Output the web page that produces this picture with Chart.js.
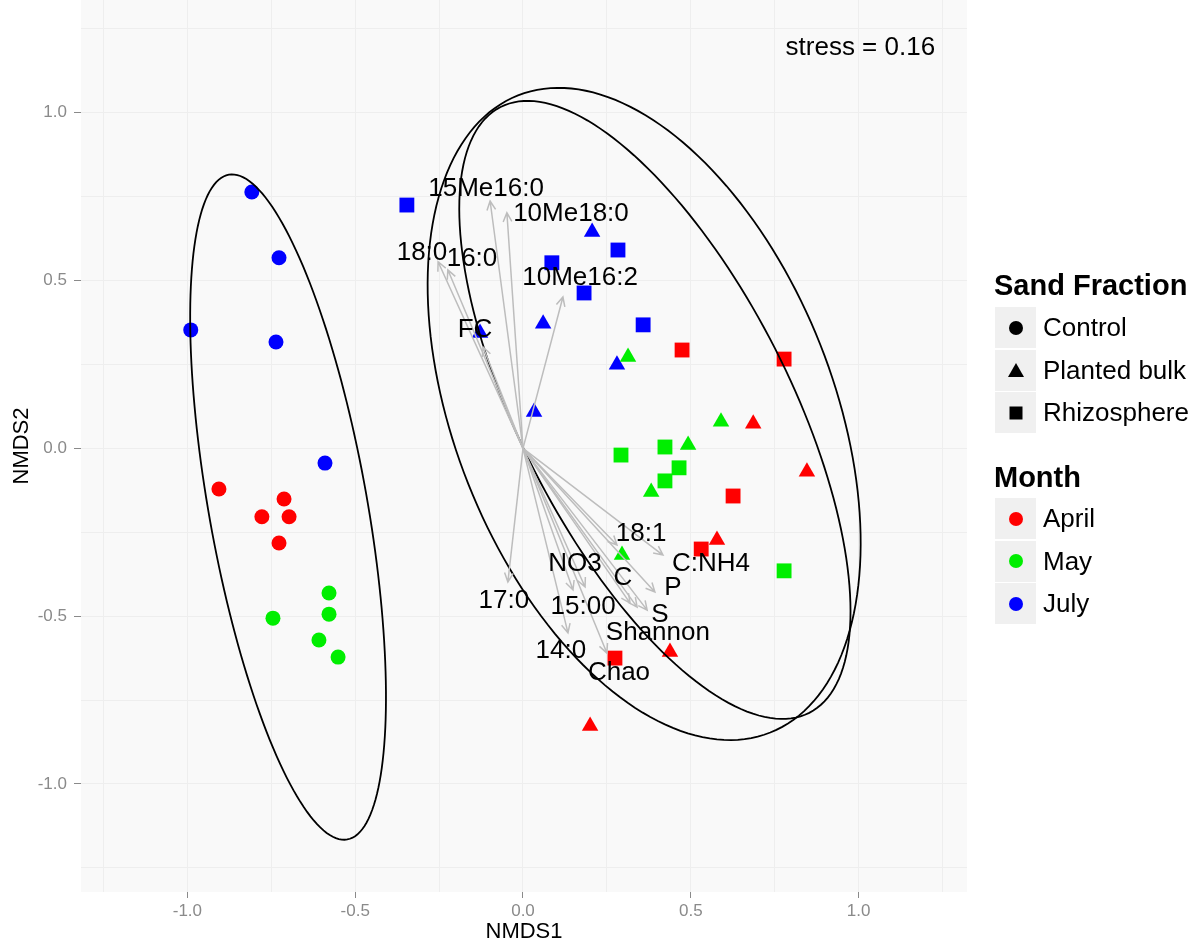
<!DOCTYPE html>
<html>
<head>
<meta charset="utf-8">
<title>NMDS</title>
<script src="https://cdn.jsdelivr.net/npm/chart.js@4.4.0/dist/chart.umd.min.js"></script>
<style>
  html, body { margin: 0; padding: 0; background: #fff; }
  #wrap { position: relative; width: 1203px; height: 945px; font-family: "Liberation Sans", Arial, sans-serif; }
  #plot { position: absolute; left: 0; top: 0; }
  .lg-title { position: absolute; left: 994px; font-weight: bold; font-size: 29px; line-height: 32px; color: #000; }
  .lg-row { position: absolute; left: 995px; height: 41px; }
  .lg-key { position: absolute; left: 0; top: 0; width: 41px; height: 41px; background: #f0f0f0; }
  .lg-key span { position: absolute; left: 50%; top: 50%; transform: translate(-50%, -50%); }
  .lg-label { position: absolute; left: 48px; top: 0; font-size: 26px; line-height: 41px; color: #000; white-space: nowrap; }
  .sym-circle { width: 14px; height: 14px; border-radius: 50%; }
  .sym-square { width: 13px; height: 13px; background: #000; }
  .sym-triangle { width: 0; height: 0; border-left: 8px solid transparent; border-right: 8px solid transparent; border-bottom: 14px solid #000; }
</style>
</head>
<body>
<div id="wrap">
  <canvas id="plot" width="1203" height="945"></canvas>
  <div id="legend"></div>
</div>
<script>
// site scores [NMDS1, NMDS2]
const sandFractions = ['Control', 'Planted bulk', 'Rhizosphere'];
const months = ['April', 'May', 'July'];

const controlApril = [[-0.906, -0.121], [-0.712, -0.151], [-0.778, -0.204], [-0.697, -0.204], [-0.727, -0.282]];
const controlMay = [[-0.578, -0.431], [-0.578, -0.494], [-0.745, -0.506], [-0.608, -0.571], [-0.551, -0.622]];
const controlJuly = [[-0.808, 0.764], [-0.727, 0.568], [-0.990, 0.353], [-0.736, 0.317], [-0.590, -0.044]];

const plantedApril = [[0.686, 0.073], [0.846, -0.070], [0.578, -0.273], [0.438, -0.607], [0.200, -0.827]];
const plantedMay = [[0.313, 0.272], [0.590, 0.079], [0.492, 0.010], [0.382, -0.130], [0.295, -0.318]];
const plantedJuly = [[0.206, 0.645], [0.060, 0.371], [-0.128, 0.344], [0.033, 0.108], [0.280, 0.249]];

const rhizoApril = [[0.474, 0.293], [0.778, 0.266], [0.626, -0.142], [0.531, -0.300], [0.274, -0.625]];
const rhizoMay = [[0.292, -0.020], [0.423, 0.004], [0.465, -0.058], [0.423, -0.097], [0.778, -0.365]];
const rhizoJuly = [[-0.346, 0.725], [0.086, 0.553], [0.283, 0.591], [0.182, 0.463], [0.358, 0.368]];

const sites = [
  [controlApril, controlMay, controlJuly],
  [plantedApril, plantedMay, plantedJuly],
  [rhizoApril, rhizoMay, rhizoJuly]
];

// fitted vectors
const vectorNames = ['15Me16:0', '10Me18:0', '18:0', '16:0', 'FC', '10Me16:2', '17:0', '14:0', 'Chao', '15:00', 'NO3', 'C', 'Shannon', 'S', 'P', '18:1', 'C:NH4'];
const vectorNMDS1 = [-0.098, -0.048, -0.253, -0.224, -0.119, 0.119, -0.045, 0.134, 0.250, 0.149, 0.185, 0.319, 0.340, 0.370, 0.393, 0.280, 0.417];
const vectorNMDS2 = [0.737, 0.702, 0.556, 0.532, 0.302, 0.451, -0.398, -0.550, -0.610, -0.422, -0.413, -0.461, -0.473, -0.482, -0.428, -0.288, -0.318];
const labelNMDS1 = [-0.110, 0.143, -0.301, -0.152, -0.143, 0.170, -0.057, 0.113, 0.286, 0.179, 0.155, 0.298, 0.402, 0.408, 0.447, 0.352, 0.560];
const labelNMDS2 = [0.776, 0.702, 0.585, 0.568, 0.356, 0.511, -0.452, -0.601, -0.666, -0.470, -0.342, -0.383, -0.547, -0.494, -0.413, -0.252, -0.342];

// group ellipses: centre, semi-axes, lean of the major axis from vertical (deg)
const ellipseCentre = [[-0.700, -0.175], [0.361, 0.1025], [0.393, 0.1145]];
const ellipseAxes = [[1.006, 0.236], [1.021, 0.564], [1.013, 0.402]];
const ellipseLean = [10.1, 21.6, 27];

const stressText = 'stress = 0.16';

const monthColors = ['#ff0000', '#00ee00', '#0000ff'];
const shapeStyle = [
  { pointStyle: 'circle', radius: 7.5, css: 'sym-circle' },
  { pointStyle: 'triangle', radius: 9.5, css: 'sym-triangle' },
  { pointStyle: 'rect', radius: 10.5, css: 'sym-square' }
];

const FONT = '"Liberation Sans", Arial, sans-serif';

const datasets = [];
sites.forEach((byMonth, f) => {
  byMonth.forEach((pts, m) => {
    datasets.push({
      label: sandFractions[f] + ' / ' + months[m],
      data: pts.map(p => ({ x: p[0], y: p[1] })),
      pointStyle: shapeStyle[f].pointStyle,
      pointRadius: shapeStyle[f].radius,
      pointBackgroundColor: monthColors[m],
      pointBorderColor: monthColors[m],
      pointBorderWidth: 0,
      showLine: false
    });
  });
});

const isMajor = v => Math.abs(v * 2 - Math.round(v * 2)) < 1e-6;

const overlay = {
  id: 'overlay',
  beforeDraw(chart) {
    const { ctx, chartArea: a } = chart;
    ctx.save();
    ctx.fillStyle = '#f9f9f9';
    ctx.fillRect(a.left, a.top, a.right - a.left, a.bottom - a.top);
    ctx.restore();
  },
  afterDatasetsDraw(chart) {
    const { ctx } = chart;
    const xs = chart.scales.x, ys = chart.scales.y;
    const px = v => xs.getPixelForValue(v);
    const py = v => ys.getPixelForValue(v);
    ctx.save();

    // ellipses
    ctx.strokeStyle = '#000';
    ctx.lineWidth = 1.8;
    ellipseCentre.forEach((c, i) => {
      const [A, B] = ellipseAxes[i];
      const th = ellipseLean[i] * Math.PI / 180;
      const ux = -Math.sin(th), uy = Math.cos(th);
      const vx = Math.cos(th), vy = Math.sin(th);
      ctx.beginPath();
      for (let k = 0; k <= 180; k++) {
        const t = k / 180 * 2 * Math.PI;
        const dx = A * Math.cos(t) * ux + B * Math.sin(t) * vx;
        const dy = A * Math.cos(t) * uy + B * Math.sin(t) * vy;
        const X = px(c[0] + dx), Y = py(c[1] + dy);
        if (k === 0) ctx.moveTo(X, Y); else ctx.lineTo(X, Y);
      }
      ctx.closePath();
      ctx.stroke();
    });

    // vectors
    ctx.strokeStyle = '#bdbdbd';
    ctx.lineWidth = 1.5;
    const ox = px(0), oy = py(0);
    vectorNames.forEach((n, i) => {
      const ex = px(vectorNMDS1[i]), ey = py(vectorNMDS2[i]);
      const ang = Math.atan2(ey - oy, ex - ox);
      const hl = 10, ha = Math.PI / 7;
      ctx.beginPath();
      ctx.moveTo(ox, oy);
      ctx.lineTo(ex, ey);
      ctx.moveTo(ex - hl * Math.cos(ang - ha), ey - hl * Math.sin(ang - ha));
      ctx.lineTo(ex, ey);
      ctx.lineTo(ex - hl * Math.cos(ang + ha), ey - hl * Math.sin(ang + ha));
      ctx.stroke();
    });

    // vector labels
    ctx.fillStyle = '#000';
    ctx.font = '26px ' + FONT;
    ctx.textAlign = 'center';
    ctx.textBaseline = 'middle';
    vectorNames.forEach((n, i) => {
      ctx.fillText(n, px(labelNMDS1[i]), py(labelNMDS2[i]) + 1);
    });

    // stress
    ctx.textAlign = 'right';
    ctx.fillText(stressText, px(1.228), py(1.196) + 1);
    ctx.restore();
  }
};

new Chart(document.getElementById('plot'), {
  type: 'scatter',
  data: { datasets },
  options: {
    responsive: false,
    animation: false,
    devicePixelRatio: 1,
    layout: { autoPadding: false, padding: { left: 0, top: 0, right: 236, bottom: 0 } },
    plugins: { legend: { display: false }, tooltip: { enabled: false } },
    scales: {
      x: {
        type: 'linear',
        min: -1.317,
        max: 1.323,
        border: { display: false },
        grid: {
          color: '#eeeeee',
          lineWidth: 1,
          tickLength: 6,
          tickColor: c => (c.tick && isMajor(c.tick.value)) ? '#8a8a8a' : 'rgba(0,0,0,0)'
        },
        ticks: {
          stepSize: 0.25,
          includeBounds: false,
          autoSkip: false,
          maxRotation: 0,
          padding: 3,
          color: '#8a8a8a',
          font: { family: FONT, size: 17 },
          callback: v => isMajor(v) ? v.toFixed(1) : ''
        },
        title: { display: true, text: 'NMDS1', color: '#000', font: { family: FONT, size: 22 }, padding: { top: 0, bottom: 0 } },
        afterFit: s => { s.height = 53; s.paddingLeft = 0; s.paddingRight = 0; }
      },
      y: {
        type: 'linear',
        min: -1.322,
        max: 1.336,
        border: { display: false },
        grid: {
          color: '#eeeeee',
          lineWidth: 1,
          tickLength: 7,
          tickColor: c => (c.tick && isMajor(c.tick.value)) ? '#8a8a8a' : 'rgba(0,0,0,0)'
        },
        ticks: {
          stepSize: 0.25,
          includeBounds: false,
          autoSkip: false,
          padding: 7,
          color: '#8a8a8a',
          font: { family: FONT, size: 17 },
          callback: v => isMajor(v) ? v.toFixed(1) : ''
        },
        title: { display: true, text: 'NMDS2', color: '#000', font: { family: FONT, size: 22 }, padding: { top: 9, bottom: 0 } },
        afterFit: s => { s.width = 81; s.paddingTop = 0; s.paddingBottom = 0; }
      }
    }
  },
  plugins: [overlay]
});

// legend
const legend = document.getElementById('legend');
function addTitle(text, top) {
  const d = document.createElement('div');
  d.className = 'lg-title';
  d.style.top = top + 'px';
  d.textContent = text;
  legend.appendChild(d);
}
function addRow(top, symClass, color, text) {
  const r = document.createElement('div');
  r.className = 'lg-row';
  r.style.top = top + 'px';
  const k = document.createElement('div');
  k.className = 'lg-key';
  const s = document.createElement('span');
  s.className = symClass;
  if (symClass === 'sym-circle') s.style.background = color;
  k.appendChild(s);
  const l = document.createElement('div');
  l.className = 'lg-label';
  l.textContent = text;
  r.appendChild(k);
  r.appendChild(l);
  legend.appendChild(r);
}
addTitle('Sand Fraction', 269);
sandFractions.forEach((f, i) => addRow(307 + i * 42.5, shapeStyle[i].css, '#000', f));
addTitle('Month', 461);
months.forEach((m, i) => addRow(498 + i * 42.5, 'sym-circle', monthColors[i], m));
</script>
</body>
</html>
